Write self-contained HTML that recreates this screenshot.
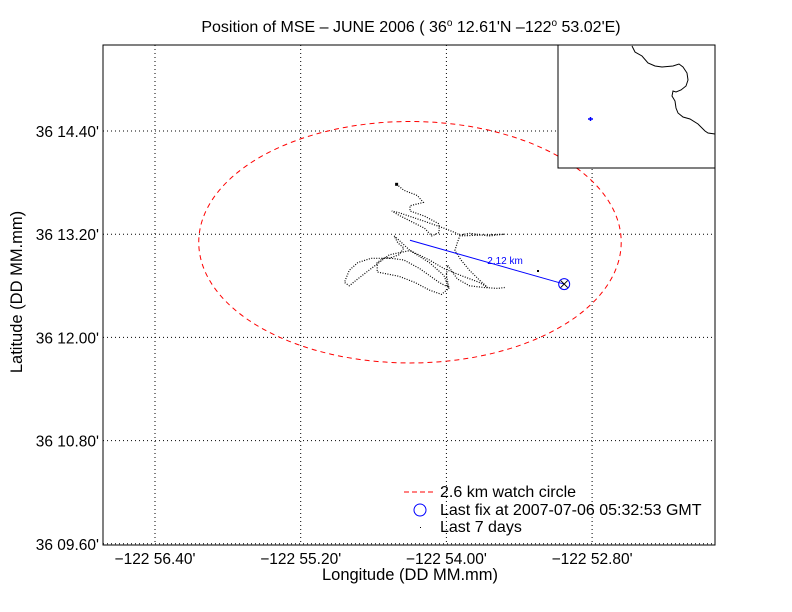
<!DOCTYPE html>
<html><head><meta charset="utf-8"><style>
body{margin:0;background:#fff;width:792px;height:612px;overflow:hidden}
svg{display:block;font-family:"Liberation Sans",Arial,sans-serif}
</style></head><body>
<svg id="chart" width="792" height="612" viewBox="0 0 792 612">
<rect width="792" height="612" fill="#fff"/>
<text x="411" y="32" text-anchor="middle" font-size="16">Position of MSE – JUNE 2006 ( 36<tspan dy="-6" font-size="10">o</tspan><tspan dy="6"> 12.61'N –122</tspan><tspan dy="-6" font-size="10">o</tspan><tspan dy="6"> 53.02'E)</tspan></text>
<g id="grid"></g>
<g id="marks"></g>
<rect x="103" y="45" width="612" height="500" fill="none" stroke="#000" stroke-width="1"/>
<g id="ticks"></g>
<text x="410" y="580" text-anchor="middle" font-size="16.5">Longitude (DD MM.mm)</text>
<text transform="translate(22,292) rotate(-90)" text-anchor="middle" font-size="16.5">Latitude (DD MM.mm)</text>
<g>
<rect x="558" y="45" width="157" height="123" fill="#fff" stroke="#000" stroke-width="1"/>
<polyline points="632,46 635,52 642,56 648,63 655,66 662,67 673,66 679,64 683,67 687,73 688,80 686,86 681,90 676,92 673,91 672,96 675,101 676,108 678,113 683,117 690,119 698,124 705,131 708,133 715,134" fill="none" stroke="#000" stroke-width="1"/>
<path d="M588,119 h5 M590.5,117 v4" stroke="#00f" stroke-width="1.5"/>
</g>
<g>
<line x1="404" y1="492" x2="433" y2="492" stroke="#f00" stroke-dasharray="5 3"/>
<text x="440" y="497" font-size="16">2.6 km watch circle</text>
<circle cx="420" cy="510" r="6" fill="none" stroke="#00f"/>
<text x="440" y="515" font-size="16">Last fix at 2007-07-06 05:32:53 GMT</text>
<rect x="420" y="527" width="1" height="1" fill="#000"/>
<text x="440" y="532" font-size="16">Last 7 days</text>
</g>
</svg>
<script>
// axis tick values (minutes)
const xTicks = [56.40, 55.20, 54.00, 52.80];
const xTickLabels = ["−122 56.40'", "−122 55.20'", "−122 54.00'", "−122 52.80'"];
const yTicks = [14.40, 13.20, 12.00, 10.80, 9.60];
const yTickLabels = ["36 14.40'", "36 13.20'", "36 12.00'", "36 10.80'", "36 09.60'"];
// track (west longitude minutes past 122°, latitude minutes past 36°)
const trackLon = [54.41,54.35,54.24,54.19,54.30,54.30,54.18,54.06,54.06,54.12,54.18,54.39,54.45,54.39,54.18,54.02,53.93,53.89,53.81,53.65,53.52,53.89,53.91,53.93,53.88,53.81,53.73,53.66,53.73,53.88,54.02,54.14,54.30,54.39,54.43,54.40,54.35,54.39,54.47,54.62,54.73,54.80,54.84,54.80,54.73,54.62,54.47,54.30,54.14,54.02,53.98,54.04,54.14,54.26,54.39,54.57,54.57,54.51,54.35,54.22,54.06,53.98,54.00,53.99,53.91,53.81,53.69,53.58,53.52];
const trackLat = [13.78,13.71,13.65,13.57,13.53,13.47,13.41,13.32,13.22,13.18,13.27,13.42,13.47,13.45,13.35,13.27,13.22,13.19,13.21,13.18,13.20,13.18,13.10,13.01,12.90,12.78,12.67,12.58,12.64,12.72,12.80,12.90,13.01,13.13,13.18,13.10,13.04,12.96,12.92,12.92,12.87,12.78,12.64,12.60,12.68,12.80,12.96,13.01,12.87,12.72,12.57,12.50,12.55,12.64,12.71,12.76,12.87,12.93,12.90,12.80,12.64,12.58,12.72,12.84,12.68,12.60,12.58,12.57,12.58];
const lastFixLon = [53.03];
const lastFixLat = [12.62];
const refLon = [54.30];
const refLat = [13.13];
const watchRadiusKm = [2.6];
const rangeLabel = ["2.12 km"];

const NS="http://www.w3.org/2000/svg";
const xScale = m => 155 + (56.40 - m) / 1.2 * 145.7;
const yScale = m => 131 + (14.40 - m) / 1.2 * 103.2;
function mk(tag, attrs, parent){const e=document.createElementNS(NS,tag);for(const k in attrs)e.setAttribute(k,attrs[k]);parent.appendChild(e);return e;}
const grid=document.getElementById('grid'), ticks=document.getElementById('ticks'), marks=document.getElementById('marks');

xTicks.forEach((v,i)=>{
  const x=xScale(v);
  const g=mk('line',{x1:x,y1:45,x2:x,y2:545,stroke:'#000','stroke-dasharray':'1 3','stroke-width':1},grid);
  
  
  const t=mk('text',{x:x,y:564,'text-anchor':'middle','font-size':15.5},ticks);
  t.textContent=xTickLabels[i];
  
  
});
yTicks.forEach((v,i)=>{
  const y=yScale(v);
  const g=mk('line',{x1:103,y1:y,x2:715,y2:y,stroke:'#000','stroke-dasharray':'1 3','stroke-width':1},grid);
  
  
  const t=mk('text',{x:99,y:y+6,'text-anchor':'end','font-size':15.5},ticks);
  t.textContent=yTickLabels[i];
  
  
});

// watch circle
const cx=xScale(refLon[0]), cy=yScale(refLat[0])+2;
const rLat = watchRadiusKm[0]/1.852, rLon = watchRadiusKm[0]/(1.852*Math.cos(36.2*Math.PI/180));
const ell=mk('ellipse',{cx:cx,cy:cy,rx:xScale(54.30-rLon)-cx,ry:yScale(13.13-rLat)-yScale(13.13),fill:'none',stroke:'#f00','stroke-dasharray':'5 4','stroke-width':1},marks);



// track
const pts=trackLon.map((v,i)=>xScale(v).toFixed(1)+','+yScale(trackLat[i]).toFixed(1)).join(' ');
const tr=mk('polyline',{points:pts,fill:'none',stroke:'#000','stroke-width':1.2,'stroke-dasharray':'1 1.5'},marks);


const st=mk('rect',{x:xScale(trackLon[0])-1.5,y:yScale(trackLat[0])-1.5,width:3,height:3,fill:'#000'},marks);



// range line
const fx=xScale(lastFixLon[0]), fy=yScale(lastFixLat[0]);
const rl=mk('line',{x1:cx,y1:yScale(refLat[0]),x2:fx,y2:fy,stroke:'#00f','stroke-width':1},marks);


const rt=mk('text',{x:(cx+fx)/2+18,y:(yScale(refLat[0])+fy)/2+2,'font-size':10,fill:'#00f','text-anchor':'middle'},marks);
rt.textContent=rangeLabel[0];


const dot=mk('rect',{x:537,y:270,width:2,height:2,fill:'#000'},marks);



// last fix marker
const lf=mk('circle',{cx:fx,cy:fy,r:5.5,fill:'none',stroke:'#00f'},marks);


const lx=mk('path',{d:`M${fx-3.5},${fy-3.5}L${fx+3.5},${fy+3.5}M${fx+3.5},${fy-3.5}L${fx-3.5},${fy+3.5}`,stroke:'#000','stroke-width':1},marks);


</script>
</body></html>
